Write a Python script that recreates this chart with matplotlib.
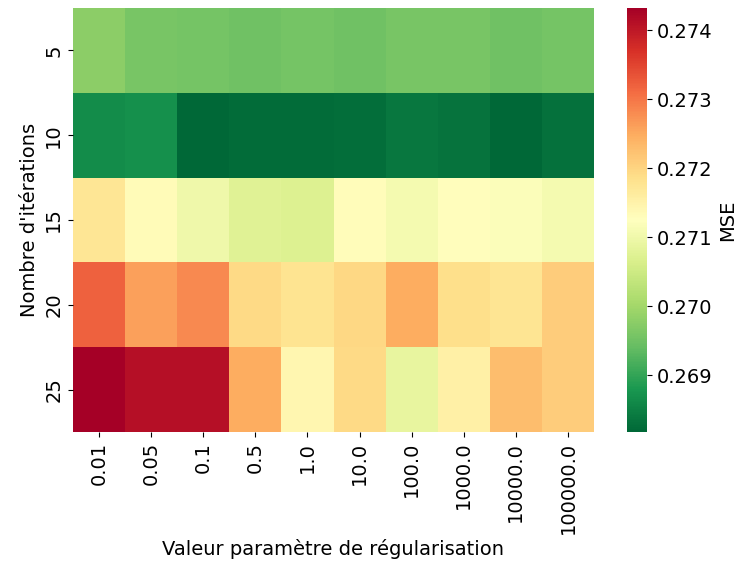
import numpy as np
import matplotlib
matplotlib.use("Agg")
import matplotlib.pyplot as plt
import seaborn as sns

reg_params = ["0.01", "0.05", "0.1", "0.5", "1.0", "10.0", "100.0", "1000.0", "10000.0", "100000.0"]
iterations = ["5", "10", "15", "20", "25"]

mse_5 = [0.26978, 0.26959, 0.26957, 0.26952, 0.26957, 0.26950, 0.26959, 0.26959, 0.26952, 0.26955]
mse_10 = [0.26864, 0.26870, 0.26818, 0.26824, 0.26824, 0.26826, 0.26839, 0.26833, 0.26818, 0.26830]
mse_15 = [0.27174, 0.27134, 0.27100, 0.27076, 0.27070, 0.27131, 0.27107, 0.27129, 0.27119, 0.27107]
mse_20 = [0.27320, 0.27260, 0.27282, 0.27194, 0.27180, 0.27196, 0.27248, 0.27187, 0.27177, 0.27211]
mse_25 = [0.27432, 0.27412, 0.27412, 0.27248, 0.27143, 0.27193, 0.27088, 0.27156, 0.27229, 0.27211]

data = np.array([mse_5, mse_10, mse_15, mse_20, mse_25])

FS = 14
plt.rcParams['font.family'] = ['DejaVu Sans']
plt.rcParams['font.size'] = FS

fig = plt.figure(figsize=(7.38, 5.70), dpi=100)
ax = fig.add_axes([73 / 738, 1 - 432 / 570, 521 / 738, 424 / 570])
cax = fig.add_axes([627 / 738, 1 - 432 / 570, 20 / 738, 424 / 570])

sns.heatmap(data, ax=ax, cbar_ax=cax, cmap="RdYlGn_r",
            xticklabels=reg_params, yticklabels=iterations,
            cbar_kws={"label": "MSE"})

ax.set_xlabel("Valeur paramètre de régularisation", fontsize=FS)
ax.set_ylabel("Nombre d'itérations", fontsize=FS)
ax.tick_params(axis='x', labelrotation=90, labelsize=FS)
ax.tick_params(axis='y', labelrotation=90, labelsize=FS)
for lbl in ax.get_yticklabels():
    lbl.set_va('center')
cax.tick_params(labelsize=FS)
cax.set_yticks([0.269, 0.270, 0.271, 0.272, 0.273, 0.274])
cax.yaxis.label.set_size(FS)

fig.savefig("out.png", dpi=100)
